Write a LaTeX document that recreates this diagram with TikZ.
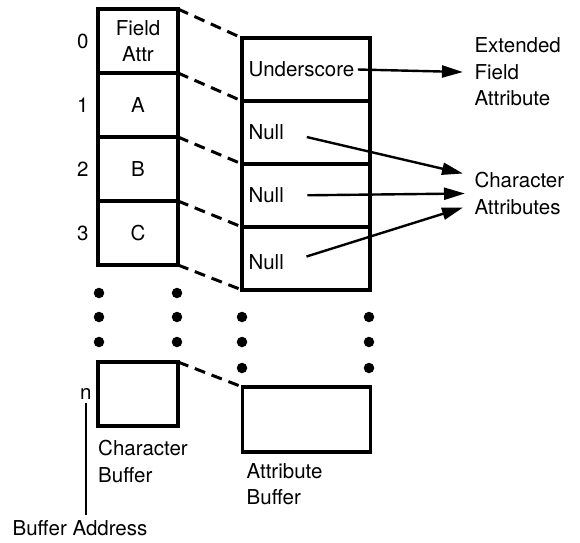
\documentclass[tikz,border=0pt]{standalone}
\usepackage{fontspec}
\setmainfont{TeX Gyre Heros}
\usetikzlibrary{arrows.meta,positioning}

\begin{document}
\begin{tikzpicture}[
    x=1pt, y=-1pt,
    font=\fontsize{20.5}{26.5}\selectfont,
    cell/.style={draw, line width=3.2pt, outer sep=0pt, inner sep=0pt, minimum width=80pt, minimum height=64pt, align=center},
    acell/.style={cell, minimum width=128pt, minimum height=63pt},
    link/.style={line width=3pt, dash pattern=on 11pt off 7pt},
    arrow/.style={-{Triangle[length=21pt, width=12pt]}, line width=2.4pt},
    dot/.style={circle, fill, inner sep=0pt, minimum size=10.5pt}
  ]
    \useasboundingbox (0,0) rectangle (580,542);
    \node[cell] (c0) at (138,41) {Field\\Attr};
    \node[cell, below=0pt of c0] (c1) {A};
    \node[cell, below=0pt of c1] (c2) {B};
    \node[cell, below=0pt of c2] (c3) {C};
    \foreach \i in {0,...,3}
      \node[left=6pt of c\i.west] (r\i) {\i};
    \node[acell] (a0) at (306,69.5) {};
    \node[acell, below=0pt of a0] (a1) {};
    \node[acell, below=0pt of a1] (a2) {};
    \node[acell, below=0pt of a2] (a3) {};
    \foreach \i in {0,...,3}
      \draw[link] (c\i.north east) -- (a\i.north west);
    \draw[link] (c3.south east) -- (a3.south west);
    \node[anchor=west] (under) at ([xshift=3pt]a0.west) {Underscore};
    \node[anchor=west] (null1) at ([xshift=3pt]a1.west) {Null};
    \node[anchor=west] (null2) at ([xshift=3pt]a2.west) {Null};
    \node[anchor=west] (null3) at ([xshift=3pt, yshift=-4pt]a3.west) {Null};
    \node[anchor=west, align=left] (ext) at (471,72) {Extended\\Field\\Attribute};
    \node[anchor=west, align=left] (chr) at (471,193.5) {Character\\Attributes};
    \draw[arrow] (under.east) -- ([xshift=-8pt]ext.west);
    \draw[arrow, shorten <=20pt] (null1.east) -- ([xshift=-8pt, yshift=20pt]chr.west);
    \draw[arrow, shorten <=20pt] (null2.east) -- ([xshift=-6pt]chr.west);
    \draw[arrow, shorten <=20pt] (null3.east) -- ([xshift=-8pt, yshift=-14pt]chr.west);
    \foreach \y in {293,317,342} {
      \node[dot] (cl\y) at (99,\y) {};
      \node[dot] (cr\y) at (177,\y) {};
    }
    \foreach \y in {317,342,368} {
      \node[dot] (al\y) at (242,\y) {};
      \node[dot] (ar\y) at (369,\y) {};
    }
    \node[cell] (cn) at (138,394) {};
    \node[acell, minimum height=65pt] (an) at (306.5,419.5) {};
    \draw[link] (cn.north east) -- (an.north west);
    \node[left=3pt of cn.west] (nlab) {n};
    \node[inner sep=0pt] (addr) at (80,528) {Buffer Address};
    \draw[line width=2.4pt] (nlab.south) -- ([yshift=5pt]nlab.south |- addr.north);
    \node[anchor=north west, align=left, inner sep=0pt] (cbuf) at ([yshift=-14pt]cn.south west) {Character\\Buffer};
    \node[anchor=north west, align=left, inner sep=0pt] (abuf) at ([xshift=4pt, yshift=-11pt]an.south west) {Attribute\\Buffer};
  \end{tikzpicture}
\end{document}
